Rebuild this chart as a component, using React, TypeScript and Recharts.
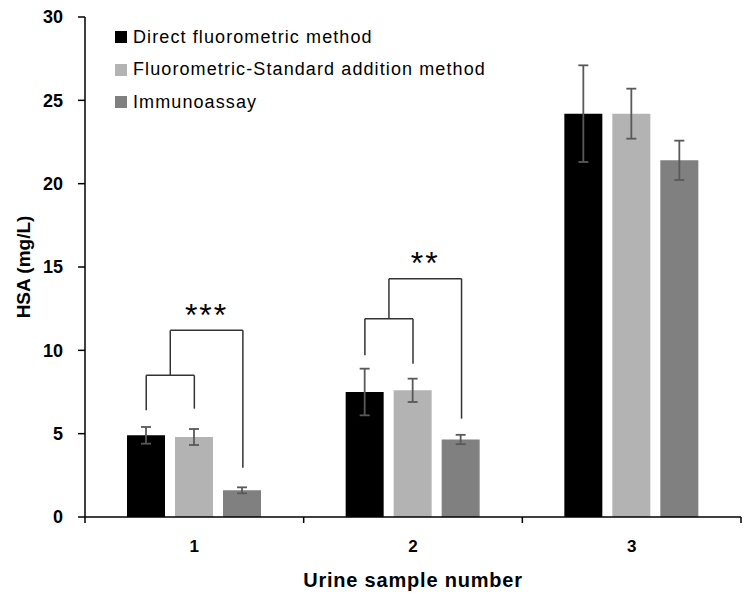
import React from 'react';
import { BarChart, Bar, XAxis, YAxis, ErrorBar, ReferenceLine, ReferenceDot, Legend } from 'recharts';

const categories = ['1', '2', '3'];
const directValues = [4.9, 7.5, 24.2];
const directErrors = [0.5, 1.4, 2.9];
const standardAdditionValues = [4.8, 7.6, 24.2];
const standardAdditionErrors = [0.48, 0.7, 1.5];
const immunoassayValues = [1.6, 4.65, 21.4];
const immunoassayErrors = [0.18, 0.28, 1.18];
const seriesNames = ['Direct fluorometric method', 'Fluorometric-Standard addition method', 'Immunoassay'];
const yTicks = [0, 5, 10, 15, 20, 25, 30];
const xPositions = [1, 2, 3];
const xBoundaryTicks = [0.5, 1, 1.5, 2, 2.5, 3, 3.5];

// significance brackets: [x1, y1, x2, y2] in data units (x on numeric position axis)
const bracketSegments = [
  [0.78, 6.4, 0.78, 8.5],
  [0.78, 8.5, 1.0, 8.5],
  [1.0, 8.5, 1.0, 6.5],
  [0.89, 8.5, 0.89, 11.2],
  [0.89, 11.2, 1.222, 11.2],
  [1.222, 11.2, 1.222, 2.95],
  [1.78, 9.7, 1.78, 11.9],
  [1.78, 11.9, 2.0, 11.9],
  [2.0, 11.9, 2.0, 9.2],
  [1.89, 11.9, 1.89, 14.3],
  [1.89, 14.3, 2.222, 14.3],
  [2.222, 14.3, 2.222, 5.9],
];
const starLabels = [
  { x: 1.056, y: 12.25, text: '***' },
  { x: 2.056, y: 15.37, text: '**' },
];

const data = categories.map((c, i) => ({
  name: c,
  pos: xPositions[i],
  direct: directValues[i],
  directErr: directErrors[i],
  std: standardAdditionValues[i],
  stdErr: standardAdditionErrors[i],
  immuno: immunoassayValues[i],
  immunoErr: immunoassayErrors[i],
}));

const colors = ['#000000', '#b3b3b3', '#808080'];
const FONT = '"Liberation Sans", Arial, sans-serif';

const XTick = (props: any) => {
  const { x, y, payload } = props;
  const v = payload.value;
  if (Number.isInteger(v)) {
    return (
      <text x={x} y={y + 35} textAnchor="middle" fontFamily={FONT} fontWeight="bold" fontSize={17} fill="#000">
        {String(v)}
      </text>
    );
  }
  return <line x1={x} y1={y} x2={x} y2={y + 6} stroke="#000" strokeWidth={1.5} />;
};

const LegendContent = () => (
  <div style={{ fontFamily: FONT, fontSize: 18, letterSpacing: 1.1, color: '#000', textAlign: 'left' }}>
    {seriesNames.map((n, i) => (
      <div key={n} style={{ display: 'flex', alignItems: 'center', height: 32.5, whiteSpace: 'nowrap' }}>
        <span style={{ display: 'inline-block', width: 12, height: 12, background: colors[i], marginRight: 6 }} />
        <span>{n}</span>
      </div>
    ))}
  </div>
);

const StarLabel = (props: any) => {
  const { viewBox, value } = props;
  const cx = viewBox.x + (viewBox.width || 0) / 2;
  const cy = viewBox.y + (viewBox.height || 0) / 2;
  return (
    <text x={cx} y={cy + 13} textAnchor="middle" fontFamily={FONT} fontSize={32} letterSpacing={2} fill="#000">
      {value}
    </text>
  );
};

const YLabel = (props: any) => {
  const { viewBox } = props;
  const cx = viewBox.x + 23;
  const cy = viewBox.y + viewBox.height / 2;
  return (
    <text x={cx} y={cy} transform={`rotate(-90 ${cx} ${cy})`} textAnchor="middle" dominantBaseline="central" fontFamily={FONT} fontWeight="bold" fontSize={19} fill="#000">
      HSA (mg/L)
    </text>
  );
};

const XLabel = (props: any) => {
  const { viewBox } = props;
  const cx = viewBox.x + viewBox.width / 2;
  return (
    <text x={cx} y={587} textAnchor="middle" fontFamily={FONT} fontWeight="bold" fontSize={20} letterSpacing={0.8} fill="#000">
      Urine sample number
    </text>
  );
};

export default function App() {
  return (
    <div style={{ position: 'absolute', left: 0, top: 0, width: 754, height: 600, background: '#fff' }}>
      <BarChart width={754} height={600} data={data} margin={{ top: 17, right: 13, bottom: 0, left: 0 }} barSize={38} barGap={10}>
        <XAxis xAxisId="cat" dataKey="name" type="category" orientation="top" height={0} hide />
        <XAxis
          xAxisId="num"
          dataKey="pos"
          type="number"
          domain={[0.5, 3.5]}
          ticks={xBoundaryTicks}
          interval={0}
          allowDataOverflow
          height={83}
          tickSize={0}
          tickMargin={0}
          tickLine={false}
          tick={<XTick />}
          axisLine={{ stroke: '#000', strokeWidth: 1.5 }}
          label={<XLabel />}
        />
        <YAxis
          domain={[0, 30]}
          ticks={yTicks}
          width={85}
          tickSize={7}
          tickMargin={15}
          interval={0}
          axisLine={{ stroke: '#000', strokeWidth: 1.5 }}
          tickLine={{ stroke: '#000', strokeWidth: 1.5 }}
          tick={{ fontFamily: FONT, fontWeight: 'bold', fontSize: 18, fill: '#000' }}
          label={<YLabel />}
        />
        <Legend
          content={<LegendContent />}
          layout="vertical"
          verticalAlign="middle"
          align="center"
          wrapperStyle={{ position: 'absolute', left: 115, top: 21, width: 420, margin: 0 }}
        />
        <Bar xAxisId="cat" dataKey="direct" name={seriesNames[0]} fill={colors[0]} isAnimationActive={false}>
          <ErrorBar dataKey="directErr" width={5} stroke="#595959" strokeWidth={1.8} />
        </Bar>
        <Bar xAxisId="cat" dataKey="std" name={seriesNames[1]} fill={colors[1]} isAnimationActive={false}>
          <ErrorBar dataKey="stdErr" width={5} stroke="#595959" strokeWidth={1.8} />
        </Bar>
        <Bar xAxisId="cat" dataKey="immuno" name={seriesNames[2]} fill={colors[2]} isAnimationActive={false}>
          <ErrorBar dataKey="immunoErr" width={5} stroke="#595959" strokeWidth={1.8} />
        </Bar>
        {bracketSegments.map((s, i) => (
          <ReferenceLine
            key={i}
            xAxisId="num"
            segment={[{ x: s[0], y: s[1] }, { x: s[2], y: s[3] }]}
            stroke="#333"
            strokeWidth={1.5}
            ifOverflow="visible"
          />
        ))}
        {starLabels.map((s, i) => (
          <ReferenceDot key={i} xAxisId="num" x={s.x} y={s.y} r={1} fill="none" stroke="none" label={<StarLabel value={s.text} />} />
        ))}
      </BarChart>
    </div>
  );
}
